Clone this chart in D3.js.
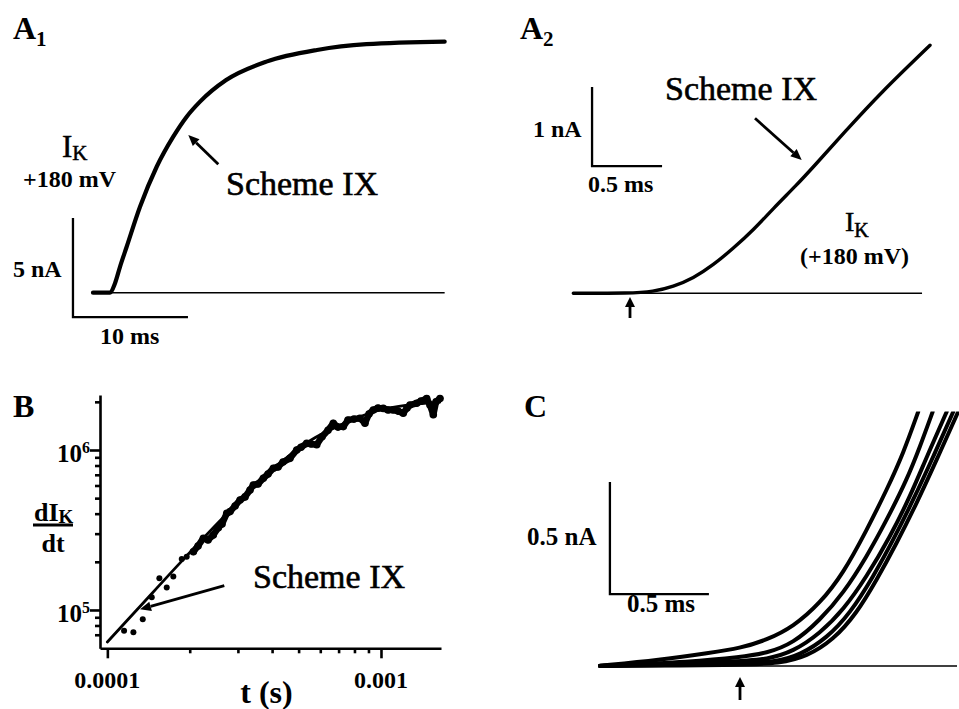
<!DOCTYPE html>
<html>
<head>
<meta charset="utf-8">
<script src="https://cdnjs.cloudflare.com/ajax/libs/d3/7.8.5/d3.min.js"></script>
<style>
  body { margin: 0; background: #fff; }
  svg { display: block; font-family: "Liberation Serif", "Times New Roman", serif; }
</style>
</head>
<body>
<svg id="fig" width="959" height="709"></svg>
<script>
// ---- A1: I_K at +180 mV (time ms, current nA)
const a1Time = [-1.48, 0, 0.43, 0.87, 1.45, 2.61, 4.06, 5.5, 6.67, 7.83, 10.1, 13.6, 18.0, 22.3, 29.1];
const a1Curr = [0, 0, 0.47, 1.31, 2.32, 4.34, 6.36, 7.88, 8.89, 9.65, 10.74, 11.67, 12.26, 12.55, 12.68];
const a1Baseline = [-1.48, 29.1];
const a1BarOrigin = [-3.22, -1.23];   // ms, nA
const a1BarSize = [10, 5];            // 10 ms, 5 nA

// ---- A2: onset of the same current, expanded
const a2Time = [-0.405, 0, 0.166, 0.309, 0.452, 0.595, 0.738, 0.881, 1.024, 1.19, 1.31, 1.548, 1.786, 2.143];
const a2Curr = [0, 0, 0.02, 0.084, 0.19, 0.358, 0.57, 0.80, 1.075, 1.37, 1.60, 2.07, 2.53, 3.14];
const a2Baseline = [-0.405, 2.086];
const a2BarOrigin = [-0.271, 1.611];
const a2BarSize = [0.5, 1];           // 0.5 ms, 1 nA

// ---- B: dI_K/dt vs t, log-log
const bTime = [1.151e-4, 1.245e-4, 1.347e-4, 1.453e-4, 1.549e-4, 1.648e-4, 1.742e-4, 1.870e-4, 1.950e-4, 2.062e-4,
  2.145e-4, 2.243e-4, 2.333e-4, 2.439e-4, 2.544e-4, 2.625e-4, 2.731e-4, 2.808e-4, 2.929e-4, 3.054e-4,
  3.185e-4, 3.322e-4, 3.415e-4, 3.553e-4, 3.715e-4, 3.865e-4, 4.042e-4, 4.205e-4, 4.385e-4, 4.651e-4,
  4.920e-4, 5.102e-4, 5.353e-4, 5.550e-4, 5.823e-4, 6.088e-4, 6.403e-4, 6.694e-4, 6.964e-4, 7.282e-4,
  7.574e-4, 7.966e-4, 8.380e-4, 8.740e-4, 9.040e-4, 9.374e-4, 9.750e-4, 1.019e-3, 1.061e-3, 1.109e-3,
  1.154e-3, 1.206e-3, 1.245e-3, 1.276e-3, 1.350e-3, 1.400e-3, 1.469e-3, 1.510e-3, 1.553e-3, 1.589e-3, 1.643e-3];
const bRate = [7.42e4, 7.26e4, 8.75e4, 1.20e5, 1.58e5, 1.38e5, 1.62e5, 2.08e5, 2.15e5, 2.31e5,
  2.51e5, 2.81e5, 2.74e5, 2.94e5, 3.27e5, 3.45e5, 4.02e5, 4.12e5, 4.47e5, 4.87e5,
  5.09e5, 5.62e5, 6.04e5, 6.13e5, 6.66e5, 7.08e5, 7.69e5, 7.83e5, 8.41e5, 8.87e5,
  1.00e6, 1.04e6, 1.10e6, 1.09e6, 1.08e6, 1.21e6, 1.33e6, 1.47e6, 1.39e6, 1.40e6,
  1.54e6, 1.56e6, 1.58e6, 1.47e6, 1.68e6, 1.78e6, 1.83e6, 1.82e6, 1.78e6, 1.78e6,
  1.75e6, 1.70e6, 1.83e6, 1.91e6, 1.96e6, 2.02e6, 2.10e6, 1.91e6, 1.66e6, 2.00e6, 2.10e6];
const bFitTime = [1.0e-4, 1.298e-4, 1.87e-4, 2.73e-4, 4.04e-4, 5.35e-4, 7.7e-4, 1.02e-3, 1.64e-3];
const bFitRate = [6.31e4, 1.025e5, 2.02e5, 3.98e5, 7.6e5, 1.11e6, 1.52e6, 1.80e6, 1.99e6];
const bXDomain = [9.4e-5, 1.657e-3];
const bYDomain = [5.76e4, 2.207e6];
const bXMajor = [1e-4, 1e-3];
const bXMinor = [2e-4, 3e-4, 4e-4, 5e-4, 6e-4, 7e-4, 8e-4, 9e-4];
const bYMajor = [1e5, 1e6];
const bYMinor = [7e4, 8e4, 9e4, 2e5, 3e5, 4e5, 5e5, 6e5, 7e5, 8e5, 9e5, 2e6];
const bXLabels = ["0.0001", "0.001"];
const bYExp = ["5", "6"];

// ---- C: family of onsets (time ms, current nA)
const cTime1 = [-0.707, -0.404, -0.152, 0, 0.135, 0.269, 0.404, 0.522, 0.640, 0.741, 0.825, 0.900];
const cCurr1 = [0.001, 0.027, 0.059, 0.079, 0.116, 0.175, 0.280, 0.414, 0.607, 0.786, 0.950, 1.135];
const cTime2 = [-0.707, -0.236, 0, 0.135, 0.269, 0.404, 0.522, 0.640, 0.741, 0.842, 0.909, 0.973];
const cCurr2 = [0.001, 0.019, 0.039, 0.057, 0.101, 0.205, 0.325, 0.488, 0.652, 0.830, 0.979, 1.135];
const cTime3 = [-0.707, 0, 0.135, 0.269, 0.404, 0.522, 0.640, 0.758, 0.859, 0.943, 1.044];
const cCurr3 = [0, 0.019, 0.030, 0.064, 0.146, 0.250, 0.399, 0.577, 0.756, 0.934, 1.135];
const cTime4 = [-0.707, 0, 0.185, 0.303, 0.438, 0.556, 0.673, 0.774, 0.875, 0.976, 1.077];
const cCurr4 = [0, 0.009, 0.019, 0.049, 0.124, 0.235, 0.399, 0.5625, 0.741, 0.934, 1.135];
const cTime5 = [-0.707, 0, 0.202, 0.337, 0.471, 0.589, 0.690, 0.791, 0.892, 0.993, 1.102];
const cCurr5 = [0, 0.004, 0.012, 0.042, 0.116, 0.235, 0.384, 0.548, 0.726, 0.920, 1.135];
const cBaseline = [-0.707, 1.096];
const cBarOrigin = [-0.657, 0.321];
const cBarSize = [0.5, 0.5];          // 0.5 ms, 0.5 nA

const svg = d3.select("#fig");
const ink = "#000";

function trace(g, x, y, ts, vs, w, curve) {
  g.append("path")
    .datum(d3.zip(ts, vs))
    .attr("d", d3.line().x(d => x(d[0])).y(d => y(d[1])).curve(curve || d3.curveBasis))
    .attr("fill", "none")
    .attr("stroke", ink)
    .attr("stroke-width", w)
    .attr("stroke-linejoin", "round")
    .attr("stroke-linecap", "round");
}

function baseline(g, x, y, span, w) {
  g.append("line")
    .attr("x1", x(span[0])).attr("x2", x(span[1]))
    .attr("y1", y(0)).attr("y2", y(0))
    .attr("stroke", ink).attr("stroke-width", w);
}

function scaleBar(g, x, y, origin, size, w) {
  g.append("path")
    .attr("d", "M" + x(origin[0]) + "," + y(origin[1] + size[1]) +
               "V" + y(origin[1]) + "H" + x(origin[0] + size[0]))
    .attr("fill", "none").attr("stroke", ink).attr("stroke-width", w);
}

function arrow(x1, y1, x2, y2, len, half, w) {
  let a = Math.atan2(y2 - y1, x2 - x1);
  let bx = x2 - len * Math.cos(a), by = y2 - len * Math.sin(a);
  svg.append("line")
    .attr("x1", x1).attr("y1", y1).attr("x2", bx).attr("y2", by)
    .attr("stroke", ink).attr("stroke-width", w);
  let px = -Math.sin(a) * half, py = Math.cos(a) * half;
  svg.append("polygon")
    .attr("points", [[x2, y2], [bx + px, by + py], [bx - px, by - py]].map(p => p.join(",")).join(" "))
    .attr("fill", ink);
}

function label(x, y, txt, size, weight, anchor) {
  return svg.append("text")
    .attr("x", x).attr("y", y)
    .attr("font-size", size)
    .attr("font-weight", weight || "bold")
    .attr("text-anchor", anchor || "start")
    .attr("fill", ink)
    .text(txt);
}

// heavier roman text, closer to the book face of the original
function bookLabel(x, y, txt, size) {
  return label(x, y, txt, size, "normal")
    .attr("stroke", ink).attr("stroke-width", 0.6);
}

function subLabel(x, y, main, sub, size, subSize, dy, weight) {
  let t = svg.append("text")
    .attr("x", x).attr("y", y)
    .attr("font-size", size)
    .attr("font-weight", weight || "bold")
    .attr("fill", ink);
  t.append("tspan").text(main);
  t.append("tspan").attr("font-size", subSize).attr("dy", dy).text(sub);
  return t;
}

// ================= A1 =================
let xA1 = d3.scaleLinear().domain([0, 10]).range([110, 225]);
let yA1 = d3.scaleLinear().domain([0, 5]).range([292.7, 193.7]);
let gA1 = svg.append("g");
baseline(gA1, xA1, yA1, a1Baseline, 1.4);
trace(gA1, xA1, yA1, a1Time, a1Curr, 4.2, d3.curveMonotoneX);
scaleBar(gA1, xA1, yA1, a1BarOrigin, a1BarSize, 2.3);

subLabel(13, 38.5, "A", "1", 32, 21, 7);
subLabel(62, 157, "I", "K", 31, 21, 3, "normal").attr("stroke", ink).attr("stroke-width", 0.5);
label(23, 186.5, "+180 mV", 24);
label(13, 276.5, "5 nA", 24);
label(100, 344, "10 ms", 24);
bookLabel(226, 195, "Scheme IX", 34);
arrow(218.3, 164.3, 188.3, 135, 11, 4.8, 2.8);

// ================= A2 =================
let xA2 = d3.scaleLinear().domain([0, 0.5]).range([630, 700]);
let yA2 = d3.scaleLinear().domain([0, 1]).range([293.3, 214.3]);
let gA2 = svg.append("g");
baseline(gA2, xA2, yA2, a2Baseline, 1.4);
trace(gA2, xA2, yA2, a2Time, a2Curr, 3.4);
scaleBar(gA2, xA2, yA2, a2BarOrigin, a2BarSize, 2.3);

subLabel(520, 38.5, "A", "2", 32, 21, 7);
label(533, 136.5, "1 nA", 24);
label(588, 191.5, "0.5 ms", 24);
bookLabel(665, 99.5, "Scheme IX", 34);
arrow(755, 118.3, 801.7, 160, 11, 4.8, 2.8);
subLabel(845, 231, "I", "K", 28, 20, 6, "normal").attr("stroke", ink).attr("stroke-width", 0.5);
label(800, 263.5, "(+180 mV)", 24);
arrow(xA2(0), 318, xA2(0), 297, 10, 5, 2.8);

// ================= B =================
let xB = d3.scaleLog().domain(bXDomain).range([100, 441]);
let yB = d3.scaleLog().domain(bYDomain).range([648.3, 395]);
let gB = svg.append("g");

gB.append("g")
  .attr("transform", "translate(0,648.3)")
  .call(d3.axisBottom(xB).tickValues(bXMajor).tickSize(10).tickSizeOuter(0).tickFormat(""))
  .call(g => g.selectAll("path,line").attr("stroke", ink).attr("stroke-width", 2.6));
gB.append("g")
  .attr("transform", "translate(0,648.3)")
  .call(d3.axisBottom(xB).tickValues(bXMinor).tickSize(5).tickSizeOuter(0).tickFormat(""))
  .call(g => g.select(".domain").remove())
  .call(g => g.selectAll("line").attr("stroke", ink).attr("stroke-width", 2.6));
gB.append("g")
  .attr("transform", "translate(100,0)")
  .call(d3.axisLeft(yB).tickValues(bYMajor).tickSize(10).tickSizeOuter(0).tickFormat(""))
  .call(g => g.selectAll("path,line").attr("stroke", ink).attr("stroke-width", 2.6));
gB.append("g")
  .attr("transform", "translate(100,0)")
  .call(d3.axisLeft(yB).tickValues(bYMinor).tickSize(5).tickSizeOuter(0).tickFormat(""))
  .call(g => g.select(".domain").remove())
  .call(g => g.selectAll("line").attr("stroke", ink).attr("stroke-width", 2.6));

// tick labels
bXMajor.forEach((v, i) => label(xB(v), 688.3, bXLabels[i], 24, "bold", "middle"));
bYMajor.forEach((v, i) => {
  let t = svg.append("text")
    .attr("x", 90).attr("y", yB(v) + 11.7)
    .attr("text-anchor", "end")
    .attr("font-size", 25).attr("font-weight", "bold").attr("fill", ink);
  t.append("tspan").text("10");
  t.append("tspan").attr("font-size", 16).attr("dy", -9).text(bYExp[i]);
});

// fit (Scheme IX) and data
trace(gB, xB, yB, bFitTime, bFitRate, 2.8, d3.curveCatmullRom);
let bPts = d3.zip(bTime, bRate);
gB.append("path")
  .datum(bPts.slice(9))
  .attr("d", d3.line().x(d => xB(d[0])).y(d => yB(d[1])))
  .attr("fill", "none").attr("stroke", ink).attr("stroke-width", 6.5)
  .attr("stroke-linejoin", "round").attr("stroke-linecap", "round");
gB.selectAll(".dot")
  .data(bPts)
  .enter()
  .append("circle")
    .attr("cx", d => xB(d[0]))
    .attr("cy", d => yB(d[1]))
    .attr("r", (d, i) => i < 9 ? 3 : 3.8)
    .attr("fill", ink);

label(13, 417, "B", 32);
subLabel(34, 520.5, "dI", "K", 26, 19, 2);
svg.append("line")
  .attr("x1", 33).attr("x2", 73).attr("y1", 525).attr("y2", 525)
  .attr("stroke", ink).attr("stroke-width", 2.8);
label(53, 551.5, "dt", 26, "bold", "middle");
label(266.5, 703, "t (s)", 32, "bold", "middle");
bookLabel(253, 588.3, "Scheme IX", 34);
arrow(224.3, 585.7, 140, 609.3, 11, 4.8, 2.8);

// ================= C =================
let xC = d3.scaleLinear().domain([0, 0.5]).range([740, 839]);
let yC = d3.scaleLinear().domain([0, 0.5]).range([666, 554]);
svg.append("clipPath").attr("id", "clipC")
  .append("rect").attr("x", 590).attr("y", 411.5).attr("width", 369).attr("height", 297.5);
let gC = svg.append("g");
baseline(gC, xC, yC, cBaseline, 1.4);
let gCt = gC.append("g").attr("clip-path", "url(#clipC)");
[[cTime1, cCurr1], [cTime2, cCurr2], [cTime3, cCurr3], [cTime4, cCurr4], [cTime5, cCurr5]]
  .forEach(s => trace(gCt, xC, yC, s[0], s[1], 4));
scaleBar(gC, xC, yC, cBarOrigin, cBarSize, 2.3);

label(524, 417, "C", 32);
label(527, 545, "0.5 nA", 25);
label(627, 611.7, "0.5 ms", 25);
arrow(xC(0), 700, xC(0), 677, 10, 5, 2.8);
</script>
</body>
</html>
